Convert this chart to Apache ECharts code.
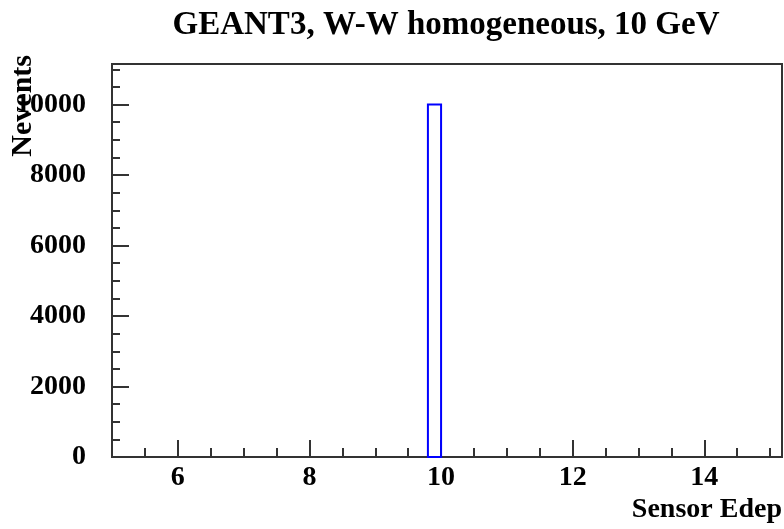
<!DOCTYPE html>
<html>
<head>
<meta charset="utf-8">
<script src="https://cdn.jsdelivr.net/npm/echarts@6/dist/echarts.min.js"></script>
<style>
html,body{margin:0;padding:0;background:#fff;}
#chart{width:784px;height:529px;}
</style>
</head>
<body>
<div id="chart"></div>
<script>
// Histogram data (bin edges and counts)
var binLow = [9.8];
var binHigh = [10.0];
var counts = [10000];
// Axis tick labels
var xMajorTicks = [6, 8, 10, 12, 14];
var yMajorTicks = [0, 2000, 4000, 6000, 8000, 10000];
var titleText = 'GEANT3, W-W homogeneous, 10 GeV';
var xTitle = 'Sensor Edep';
var yTitle = 'Nevents';

var FONT = 'Liberation Serif';
var TXT = '#000';
var AX = '#333';

var data = binLow.map(function (lo, i) { return [lo, binHigh[i], counts[i]]; });

var chart = echarts.init(document.getElementById('chart'), null, {renderer: 'canvas'});
var xMin = 5, xMax = 15.18, yMin = 0, yMax = 11150;

chart.setOption({
  animation: false,
  backgroundColor: '#fff',
  title: {
    text: titleText,
    left: 441, textAlign: 'center', top: 4,
    textStyle: {fontFamily: FONT, fontWeight: 'bold', fontSize: 33, color: TXT}
  },
  grid: {left: 112, right: 2, top: 64, bottom: 72, show: true, borderColor: AX, borderWidth: 2, backgroundColor: 'transparent'},
  xAxis: [{
    type: 'value', min: xMin, max: xMax, interval: 0.5, position: 'bottom',
    axisLine: {show: true, lineStyle: {color: AX, width: 2}},
    axisTick: {show: true, inside: true, length: 9, lineStyle: {color: AX, width: 2}},
    axisLabel: {show: false}, splitLine: {show: false}
  }, {
    type: 'value', min: xMin, max: xMax, position: 'bottom', offset: 0,
    axisLine: {show: false},
    axisTick: {show: true, inside: true, length: 17, customValues: xMajorTicks, lineStyle: {color: AX, width: 2}},
    axisLabel: {show: true, customValues: xMajorTicks, margin: 7, fontFamily: FONT, fontWeight: 'bold', fontSize: 28, color: TXT,
      formatter: function (v) { return String(v); }},
    splitLine: {show: false}
  }],
  yAxis: [{
    type: 'value', min: yMin, max: yMax, interval: 500, position: 'left',
    axisLine: {show: true, lineStyle: {color: AX, width: 2}},
    axisTick: {show: true, inside: true, length: 8, lineStyle: {color: AX, width: 2}},
    axisLabel: {show: false}, splitLine: {show: false}
  }, {
    type: 'value', min: yMin, max: yMax, position: 'left', offset: 0,
    axisLine: {show: false},
    axisTick: {show: true, inside: true, length: 17, customValues: yMajorTicks, lineStyle: {color: AX, width: 2}},
    axisLabel: {show: true, customValues: yMajorTicks, margin: 26, fontFamily: FONT, fontWeight: 'bold', fontSize: 28, color: TXT,
      formatter: function (v) { return String(v); }},
    splitLine: {show: false}
  }],
  graphic: [{
    type: 'text', x: 782, y: 510,
    style: {text: xTitle, align: 'right', verticalAlign: 'middle', fontFamily: FONT, fontWeight: 'bold', fontSize: 28, fill: TXT}
  }, {
    type: 'text', x: 23, y: 55, rotation: Math.PI / 2,
    style: {text: yTitle, align: 'right', verticalAlign: 'middle', fontFamily: FONT, fontWeight: 'bold', fontSize: 30, fill: TXT}
  }],
  series: [{
    type: 'custom',
    xAxisIndex: 0, yAxisIndex: 0,
    encode: {x: [0, 1], y: 2},
    data: data,
    renderItem: function (params, api) {
      var p0 = api.coord([api.value(0), 0]);
      var p1 = api.coord([api.value(1), api.value(2)]);
      return {
        type: 'rect',
        shape: {x: p0[0], y: p1[1], width: p1[0] - p0[0], height: p0[1] - p1[1]},
        style: {fill: 'none', stroke: '#0000ff', lineWidth: 2}
      };
    }
  }]
});
</script>
</body>
</html>
